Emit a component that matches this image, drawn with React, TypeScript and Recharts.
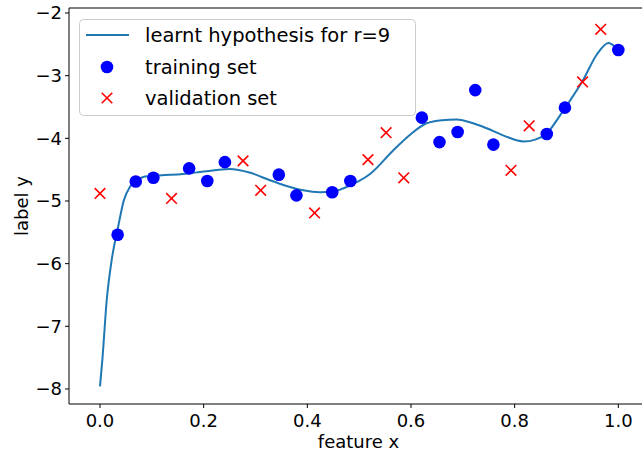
import React from "react";
import {
  ComposedChart,
  Line,
  Scatter,
  XAxis,
  YAxis,
  ReferenceLine,
  Legend,
} from "recharts";

const FONT = "DejaVu Sans";

// fitted polynomial curve
const curveX = [
  0.0, 0.0045, 0.013, 0.0226, 0.035, 0.046, 0.058, 0.071, 0.087, 0.119, 0.16,
  0.2, 0.25, 0.29, 0.328, 0.36, 0.392, 0.424, 0.45, 0.469, 0.5, 0.521, 0.566,
  0.6, 0.63, 0.66, 0.688, 0.72, 0.746, 0.78, 0.817, 0.84, 0.862, 0.888, 0.897,
  0.932, 0.958, 0.981, 1.0,
];
const curveY = [
  -7.96, -7.54, -6.58, -5.94, -5.41, -4.99, -4.77, -4.67, -4.61, -4.59, -4.57,
  -4.53, -4.49, -4.55, -4.67, -4.76, -4.83, -4.86, -4.85, -4.8, -4.68, -4.57,
  -4.19, -3.93, -3.76, -3.71, -3.7, -3.76, -3.84, -3.96, -4.05, -4.02, -3.92,
  -3.63, -3.52, -3.07, -2.67, -2.48, -2.59,
];

const trainX = [
  0.034, 0.069, 0.103, 0.172, 0.207, 0.241, 0.345, 0.379, 0.448, 0.483, 0.621,
  0.655, 0.69, 0.724, 0.759, 0.862, 0.897, 1.0,
];
const trainY = [
  -5.54, -4.69, -4.63, -4.48, -4.68, -4.38, -4.58, -4.91, -4.86, -4.68, -3.67,
  -4.06, -3.9, -3.23, -4.1, -3.93, -3.51, -2.59,
];

const valX = [0.0, 0.138, 0.276, 0.31, 0.414, 0.517, 0.552, 0.586, 0.793, 0.828, 0.931, 0.966];
const valY = [-4.88, -4.96, -4.36, -4.83, -5.19, -4.34, -3.91, -4.63, -4.51, -3.8, -3.1, -2.26];

const xTicks = [0, 0.2, 0.4, 0.6, 0.8, 1.0];
const yTicks = [-8, -7, -6, -5, -4, -3, -2];

const curve = curveX.map((x, i) => ({ x, y: curveY[i] }));
const train = trainX.map((x, i) => ({ x, y: trainY[i] }));
const val = valX.map((x, i) => ({ x, y: valY[i] }));

const Dot = (p: any) => <circle cx={p.cx} cy={p.cy} r={6.3} fill="#0000ff" />;
const Cross = (p: any) => (
  <g stroke="#ff0000" strokeWidth={1.6}>
    <line x1={p.cx - 5.3} y1={p.cy - 5.3} x2={p.cx + 5.3} y2={p.cy + 5.3} />
    <line x1={p.cx - 5.3} y1={p.cy + 5.3} x2={p.cx + 5.3} y2={p.cy - 5.3} />
  </g>
);

const renderLegend = () => (
  <svg width={338} height={98} style={{ display: "block" }}>
    <rect x={0.5} y={0.5} width={336} height={96} rx={4} fill="rgba(255,255,255,0.8)" stroke="#cccccc" />
    <line x1={7} y1={16} x2={50} y2={16} stroke="#1f77b4" strokeWidth={2} />
    <Dot cx={28} cy={48} />
    <Cross cx={28} cy={79} />
    <g fontFamily={FONT} fontSize={19.5} fill="#000">
      <text x={66} y={23}>learnt hypothesis for r=9</text>
      <text x={66} y={55}>training set</text>
      <text x={66} y={86}>validation set</text>
    </g>
  </svg>
);

const YLabel = (props: any) => {
  const vb = props.viewBox || {};
  const cy = vb.y + vb.height / 2;
  return (
    <text x={28} y={cy} transform={`rotate(-90, 28, ${cy})`} textAnchor="middle" fontFamily={FONT} fontSize={18} fill="#000">
      label y
    </text>
  );
};

export default function App() {
  const tickStyle = { fontFamily: FONT, fontSize: 18, fill: "#000" };
  return (
    <div style={{ position: "absolute", left: 0, top: 0, background: "#fff" }}>
      <ComposedChart width={642} height={453} margin={{ top: 8, right: 0, left: 0, bottom: 0 }}>
        <XAxis
          type="number"
          dataKey="x"
          domain={[-0.0598, 1.0457]}
          allowDataOverflow
          ticks={xTicks}
          tickFormatter={(v: number) => v.toFixed(1)}
          tick={tickStyle}
          tickSize={4}
          tickMargin={6}
          height={49}
          stroke="#000"
          label={{ value: "feature x", position: "insideBottom", offset: 5, dx: 3, style: { fontFamily: FONT, fontSize: 18, fill: "#000" } }}
        />
        <YAxis
          type="number"
          dataKey="y"
          domain={[-8.24, -1.92]}
          allowDataOverflow
          ticks={yTicks}
          tickFormatter={(v: number) => String(v).replace("-", "\u2212")}
          tick={tickStyle}
          tickSize={4}
          tickMargin={3}
          width={69}
          stroke="#000"
          label={<YLabel />}
        />
        <ReferenceLine y={-1.92} stroke="#000" strokeWidth={1} />
        <Legend
          content={renderLegend}
          layout="vertical"
          align="center"
          verticalAlign="middle"
          wrapperStyle={{ position: "absolute", left: 79, top: 19, width: 338, height: 98 }}
        />
        <Scatter data={train} dataKey="y" shape={Dot} isAnimationActive={false} />
        <Scatter data={val} dataKey="y" shape={Cross} isAnimationActive={false} />
        <Line data={curve} dataKey="y" type="monotone" dot={false} stroke="#1f77b4" strokeWidth={2} isAnimationActive={false} />
      </ComposedChart>
    </div>
  );
}
